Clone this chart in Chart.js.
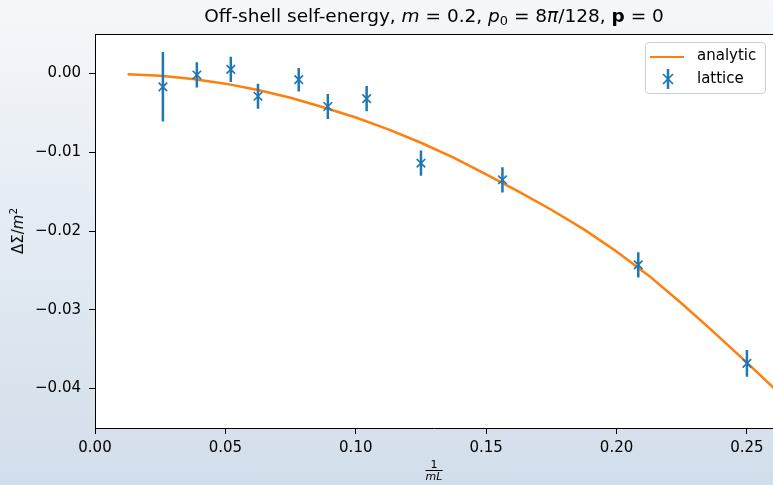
<!DOCTYPE html>
<html>
<head>
<meta charset="utf-8">
<script src="https://cdn.jsdelivr.net/npm/chart.js@4"></script>
<style>
  html, body { margin: 0; padding: 0; }
  #wrap {
    position: relative; width: 773px; height: 485px; overflow: hidden;
    background: linear-gradient(to bottom, #f5f7fa, #d2deeb);
    font-family: "DejaVu Sans", sans-serif; color: #000;
  }
  #c { position: absolute; left: 0; top: 0; }
  .title { position: absolute; left: 95px; width: 678px; top: 5px; text-align: center; font-size: 18.5px; white-space: nowrap; }
  .title sub { font-size: 0.7em; vertical-align: -0.25em; line-height: 0; }
  .ylabel { position: absolute; left: 18px; top: 231px; transform: translate(-50%, -50%) rotate(-90deg); font-size: 15px; white-space: nowrap; }
  .ylabel sup { font-size: 0.7em; vertical-align: 0.55em; line-height: 0; }
  .xlabel { position: absolute; left: 434px; top: 459px; transform: translateX(-50%); text-align: center; font-size: 11px; line-height: 11px; }
  .xlabel .num { padding: 0 2px; border-bottom: 1.5px solid #000; }
  .legend {
    position: absolute; left: 645px; top: 42px; width: 121px; height: 52px;
    background: rgba(255,255,255,0.8); border: 1px solid #d0d0d0; border-radius: 4px; box-sizing: border-box;
  }
  .legend .txt { position: absolute; left: 51px; font-size: 15px; line-height: 17px; }
  .legend .ln { position: absolute; left: 4px; width: 34px; height: 2.5px; background: #ff7f0e; }
</style>
</head>
<body>
<div id="wrap">
  <canvas id="c" width="773" height="485"></canvas>
  <div class="title">Off-shell self-energy, <i>m</i> = 0.2, <i>p</i><sub>0</sub> = 8<i>π</i>/128, <b>p</b> = 0</div>
  <div class="ylabel">ΔΣ/<i>m</i><sup>2</sup></div>
  <div class="xlabel"><div class="num">1</div><div><i>mL</i></div></div>
  <div class="legend">
    <div class="ln" style="top:12.5px"></div>
    <div class="txt" style="top:4px">analytic</div>
    <svg style="position:absolute;left:15px;top:26px" width="14" height="20">
      <line x1="7" y1="0" x2="7" y2="20" stroke="#1f77b4" stroke-width="2.5"/>
      <line x1="2" y1="5" x2="12" y2="15" stroke="#1f77b4" stroke-width="1.7"/>
      <line x1="12" y1="5" x2="2" y2="15" stroke="#1f77b4" stroke-width="1.7"/>
    </svg>
    <div class="txt" style="top:27px">lattice</div>
  </div>
</div>
<script>
// lattice points: x = 1/(mL), y = ΔΣ/m², err = half error bar
const latticeX = [0.02604, 0.03906, 0.05208, 0.0625, 0.07813, 0.08929, 0.10417, 0.125, 0.15625, 0.20833, 0.25];
const latticeY = [-0.0017, -0.0002, 0.0005, -0.0029, -0.0008, -0.0042, -0.0032, -0.0114, -0.0135, -0.0243, -0.0368];
const latticeErr = [0.0044, 0.0016, 0.0016, 0.0016, 0.0015, 0.0016, 0.0016, 0.0016, 0.0016, 0.0016, 0.0017];

// analytic curve
const curveX = [0.0125, 0.025, 0.0375, 0.05, 0.0625, 0.075, 0.0875, 0.1, 0.1125, 0.125, 0.1375,
                0.15, 0.1625, 0.175, 0.1875, 0.2, 0.2125, 0.225, 0.2375, 0.25, 0.2625];
const curveY = [-0.0001, -0.0003, -0.0007, -0.0013, -0.0021, -0.0031, -0.0043, -0.0056, -0.0071, -0.0088, -0.0107,
                -0.0128, -0.0150, -0.0173, -0.0198, -0.0226, -0.0257, -0.0292, -0.0329, -0.0367, -0.0406];

const xTicks = [0, 0.05, 0.10, 0.15, 0.20, 0.25];
const yTicks = [0, -0.01, -0.02, -0.03, -0.04];

const BLUE = '#1f77b4';
const ORANGE = '#ff7f0e';

function fmt(v) {
    return v.toFixed(2).replace('-', '\u2212');
}

// error bars as one line dataset, broken by nulls
const errData = [];
latticeX.forEach((x, i) => {
    errData.push({ x: x, y: latticeY[i] - latticeErr[i] });
    errData.push({ x: x, y: latticeY[i] + latticeErr[i] });
    errData.push({ x: x, y: null });
});

// white plot area + top spine
const framePlugin = {
    id: 'frame',
    beforeDraw(chart) {
        const a = chart.chartArea, ctx = chart.ctx;
        ctx.save();
        ctx.fillStyle = '#fff';
        ctx.fillRect(a.left, a.top, a.right - a.left, a.bottom - a.top);
        ctx.restore();
    },
    afterDraw(chart) {
        const a = chart.chartArea, ctx = chart.ctx;
        ctx.save();
        ctx.strokeStyle = '#000';
        ctx.lineWidth = 1;
        ctx.beginPath();
        ctx.moveTo(a.left, a.top + 0.5);
        ctx.lineTo(a.right, a.top + 0.5);
        ctx.stroke();
        ctx.restore();
    }
};

const tickFont = { family: 'DejaVu Sans', size: 15 };

new Chart(document.getElementById('c'), {
    type: 'scatter',
    data: {
        datasets: [
            {
                label: 'lattice',
                data: latticeX.map((x, i) => ({ x: x, y: latticeY[i] })),
                pointStyle: 'crossRot',
                pointRadius: 6,
                pointBorderWidth: 1.7,
                borderColor: BLUE,
                backgroundColor: BLUE,
                showLine: false,
                order: 0
            },
            {
                label: 'errors',
                data: errData,
                showLine: true,
                spanGaps: false,
                borderColor: BLUE,
                borderWidth: 2.5,
                pointRadius: 0,
                borderCapStyle: 'butt',
                order: 1
            },
            {
                label: 'analytic',
                data: curveX.map((x, i) => ({ x: x, y: curveY[i] })),
                showLine: true,
                borderColor: ORANGE,
                borderWidth: 2.5,
                pointRadius: 0,
                tension: 0,
                clip: 0,
                order: 2
            }
        ]
    },
    options: {
        responsive: false,
        animation: false,
        devicePixelRatio: 1,
        layout: { autoPadding: false, padding: { top: 34, right: 0, bottom: 0, left: 0 } },
        plugins: { legend: { display: false }, tooltip: { enabled: false } },
        scales: {
            x: {
                type: 'linear',
                min: 0,
                max: 0.26,
                afterBuildTicks: s => { s.ticks = xTicks.map(v => ({ value: v })); },
                afterFit: s => { s.height = 57; s.paddingLeft = 0; s.paddingRight = 0; },
                grid: { drawOnChartArea: false, drawTicks: true, tickLength: 6, color: '#000' },
                border: { display: true, color: '#000', width: 1 },
                ticks: { color: '#000', font: tickFont, padding: 5, maxRotation: 0, autoSkip: false, callback: v => fmt(v) }
            },
            y: {
                type: 'linear',
                min: -0.045,
                max: 0.005,
                afterBuildTicks: s => { s.ticks = yTicks.map(v => ({ value: v })); },
                afterFit: s => { s.width = 95; s.paddingTop = 0; s.paddingBottom = 0; },
                grid: { drawOnChartArea: false, drawTicks: true, tickLength: 6, color: '#000' },
                border: { display: true, color: '#000', width: 1 },
                ticks: { color: '#000', font: tickFont, padding: 8, autoSkip: false, callback: v => fmt(v) }
            }
        }
    },
    plugins: [framePlugin]
});
</script>
</body>
</html>
